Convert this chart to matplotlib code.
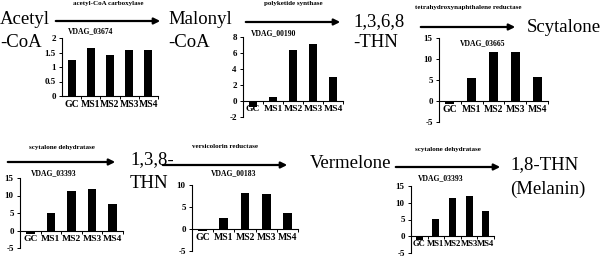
import matplotlib
matplotlib.use("Agg")
import matplotlib.pyplot as plt

plt.rcParams['font.family'] = ['Liberation Serif', 'DejaVu Serif']

# samples on every panel
categories = ['GC', 'MS1', 'MS2', 'MS3', 'MS4']

# gene names and expression values
genes = ['VDAG_03674', 'VDAG_00190', 'VDAG_03665', 'VDAG_03393', 'VDAG_00183', 'VDAG_03393']
vals_03674 = [1.25, 1.65, 1.42, 1.58, 1.57]
vals_00190 = [-0.8, 0.45, 6.4, 7.1, 3.0]
vals_03665 = [-0.8, 5.5, 11.6, 11.7, 5.8]
vals_03393a = [-1.0, 5.0, 11.2, 11.9, 7.5]
vals_00183 = [-0.5, 2.6, 8.2, 8.0, 3.7]
vals_03393b = [-1.0, 5.1, 11.3, 11.9, 7.5]

enzymes = ['acetyl-CoA carboxylase', 'polyketide synthase',
           'tetrahydroxynaphthalene reductase', 'scytalone dehydratase',
           'versicolorin reductase', 'scytalone dehydratase']

W, H = 600, 258
fig = plt.figure(figsize=(W / 100, H / 100), dpi=100)


def px_axes(l, t, r, b):
    return fig.add_axes([l / W, 1 - b / H, (r - l) / W, (b - t) / H])


def fx(x):
    return x / W


def fy(y):
    return 1 - y / H


def panel(rect, vals, ylim, yticks, ytl, xfs=7):
    ax = px_axes(*rect)
    ax.bar(range(len(categories)), vals, width=0.42, color='black')
    ax.set_xlim(-0.5, 4.5)
    ax.set_ylim(*ylim)
    ax.spines['top'].set_visible(False)
    ax.spines['right'].set_visible(False)
    ax.spines['bottom'].set_position(('data', 0))
    ax.spines['left'].set_linewidth(0.8)
    ax.spines['bottom'].set_linewidth(0.8)
    ax.set_xticks(range(len(categories)))
    ax.set_xticklabels(categories, fontsize=xfs, fontweight='bold')
    ax.set_xticks([0.5, 1.5, 2.5, 3.5, 4.5], minor=True)
    ax.tick_params(axis='x', which='major', length=0, pad=3)
    ax.tick_params(axis='x', which='minor', length=2.5, width=0.7, direction='out')
    ax.set_yticks(yticks)
    ax.set_yticklabels(ytl, fontsize=6.5, fontweight='bold')
    ax.tick_params(axis='y', length=2.5, width=0.7, pad=2)
    ax.patch.set_alpha(0)
    return ax


panel((62, 38, 158, 96), vals_03674, (0, 2), [0, 0.5, 1, 1.5, 2], ['0', '0.5', '1', '1.5', '2'])
panel((243, 37, 343, 117), vals_00190, (-2, 8), [-2, 0, 2, 4, 6, 8], ['-2', '0', '2', '4', '6', '8'], 6.8)
panel((439, 38, 548, 122), vals_03665, (-5, 15), [-5, 0, 5, 10, 15], ['-5', '0', '5', '10', '15'])
panel((20, 178, 123, 248), vals_03393a, (-5, 15), [-5, 0, 5, 10, 15], ['-5', '0', '5', '10', '15'], 6.8)
panel((192, 185, 298, 251), vals_00183, (-5, 10), [-5, 0, 5, 10], ['-5', '0', '5', '10'])
panel((411, 186, 494, 253), vals_03393b, (-5, 15), [-5, 0, 5, 10, 15], ['-5', '0', '5', '10', '15'], 6.2)

# gene labels
gene_pos = [(91, 31), (274, 33), (483, 43), (54, 173), (234, 173), (441, 178)]
for g, (x, y) in zip(genes, gene_pos):
    fig.text(fx(x), fy(y), g, fontsize=5.5, fontweight='bold', ha='center', va='center')

# arrows with enzyme names
arrows = [(53, 163, 21), (243, 343, 22), (418, 518, 27),
          (5, 118, 162), (160, 290, 165), (393, 503, 167)]
enz_y = [4, 4, 7, 148, 147, 149]
for (x0, x1, y), name, ey in zip(arrows, enzymes, enz_y):
    fig.add_artist(matplotlib.patches.FancyArrowPatch(
        (fx(x0), fy(y)), (fx(x1), fy(y)), transform=fig.transFigure,
        arrowstyle='-|>', mutation_scale=9, lw=1.6, color='black'))
    fig.text(fx((x0 + x1) / 2), fy(ey), name, fontsize=5, fontweight='bold',
             ha='center', va='center')

# compounds, one line each
compounds = [(0, 20, 'Acetyl'), (0, 42, '-CoA'), (168, 20, 'Malonyl'), (168, 42, '-CoA'),
             (353, 22, '1,3,6,8'), (353, 42, '-THN'), (527, 27, 'Scytalone'),
             (130, 160, '1,3,8-'), (130, 183, 'THN'), (310, 163, 'Vermelone'),
             (510, 165, '1,8-THN'), (510, 189, '(Melanin)')]
for x, y, s in compounds:
    fig.text(fx(x), fy(y), s, fontsize=13.5, ha='left', va='center')

fig.savefig('out.png', dpi=100)
